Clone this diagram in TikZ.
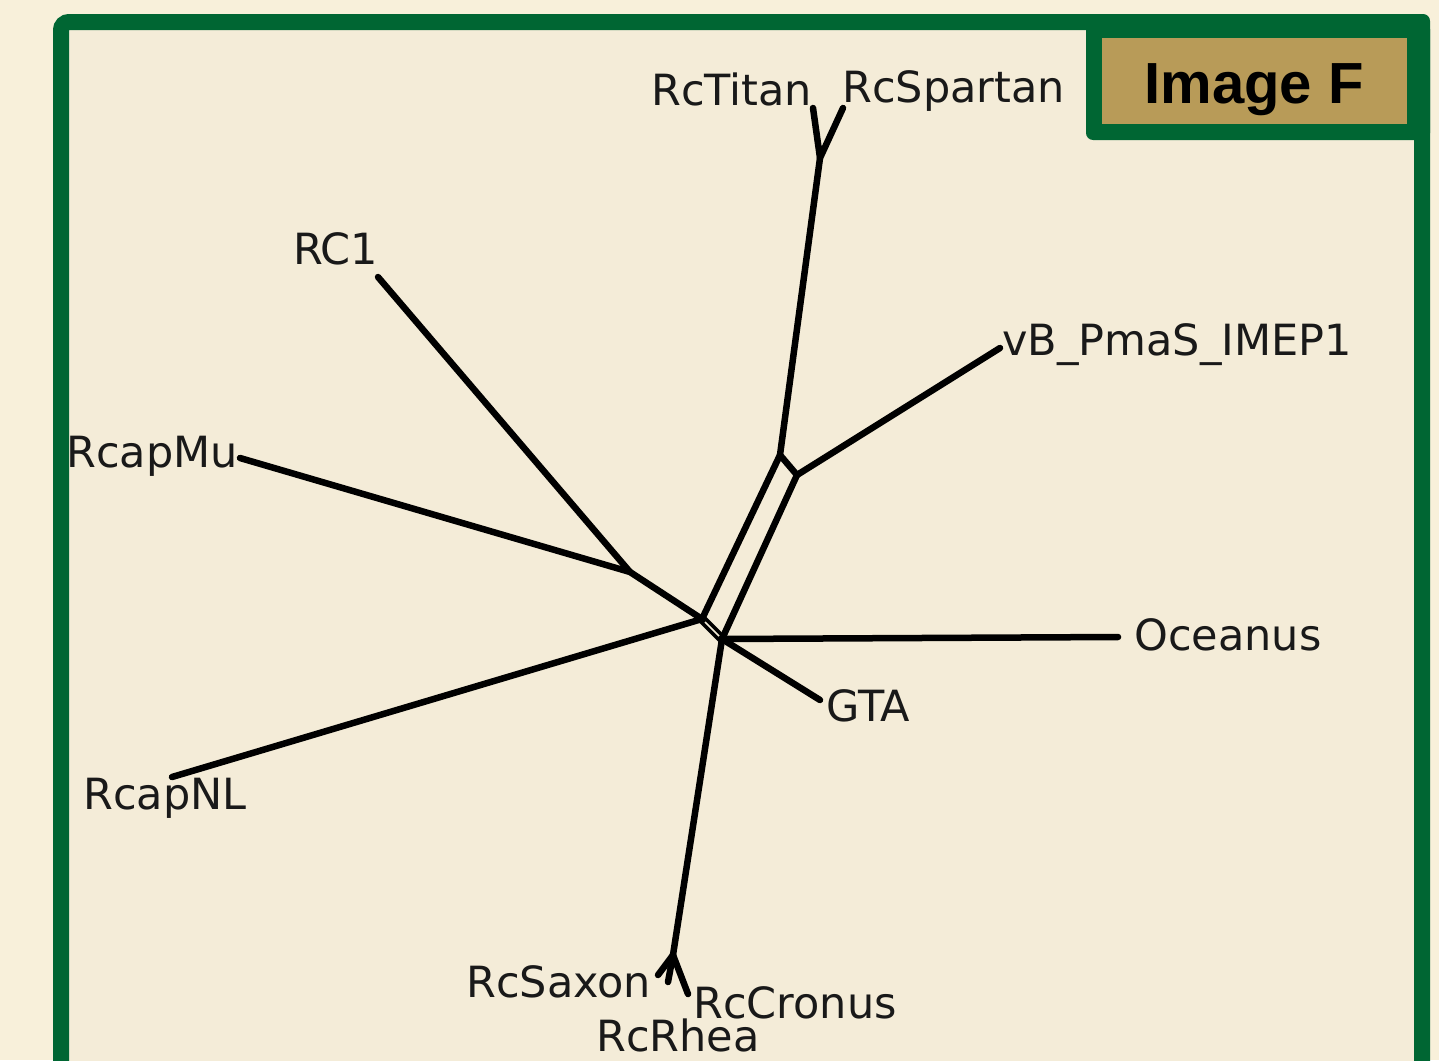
\documentclass[tikz,border=0pt]{standalone}
\usepackage{fontspec}
\usetikzlibrary{calc}
\setmainfont{DejaVu Sans}
\newfontfamily\tagfont{Liberation Sans}
\definecolor{pagebg}{HTML}{F8F0DA}
\definecolor{panelbg}{HTML}{F4ECD8}
\definecolor{framegreen}{HTML}{006633}
\definecolor{taggold}{HTML}{B89B58}
\tikzset{
  branch/.style={line width=6.5pt, line cap=round, line join=round, black},
  splitbar/.style={line width=9pt, black},
  splitgap/.style={line width=1.6pt, panelbg},
  leaf/.style={anchor=base west, inner sep=0pt, font=\fontsize{43}{43}\selectfont, text=black!90},
}
\begin{document}
\begin{tikzpicture}[x=1pt, y=-1pt]
  % page and framed panel
  \fill[pagebg] (0,0) rectangle (1439,1060);
  \useasboundingbox (0,0) rectangle (1439,1060);
  \fill[panelbg] (61,22) rectangle (1422,1080);
  \draw[framegreen, line width=16pt, rounded corners=8pt] (61,22) rectangle (1422,1100);
  % title tab
  \fill[framegreen, rounded corners=7pt] (1086,14) rectangle (1430,140);
  \fill[taggold] (1102,38) rectangle (1407,124);
  \node[inner sep=0pt, anchor=base, font=\tagfont\bfseries\fontsize{58}{58}\selectfont] (title) at (1254,103) {Image F};

  % tree vertices
  \coordinate (top) at (820,158);
  \coordinate (A) at (780,455);
  \coordinate (B) at (797,475);
  \coordinate (C) at (702,619);
  \coordinate (D) at (722,639);
  \coordinate (E) at (630,572);
  \coordinate (F) at (673,955);
  % leaf ends
  \coordinate (titanEnd) at (813,108);
  \coordinate (spartanEnd) at (843,108);
  \coordinate (vbEnd) at (1000,348);
  \coordinate (rc1End) at (378,277);
  \coordinate (muEnd) at (240,458);
  \coordinate (nlEnd) at (172,777);
  \coordinate (oceEnd) at (1118,637);
  \coordinate (gtaEnd) at (820,700);
  \coordinate (saxEnd) at (658,975);
  \coordinate (rheaEnd) at (668,982);
  \coordinate (croEnd) at (688,994);

  % branches
  \draw[branch] (titanEnd) -- (top) -- (spartanEnd);
  \draw[branch] (top) -- (A);
  \draw[branch] (A) -- (B);
  \draw[branch] (B) -- (vbEnd);
  \draw[branch] (A) -- (C);
  \draw[branch] (B) -- (D);
  \draw[branch] (C) -- (nlEnd);
  \draw[branch] (rc1End) -- (E);
  \draw[branch] (muEnd) -- (E);
  \draw[branch] (E) -- (C);
  \draw[branch] (D) -- (gtaEnd);
  \draw[branch] (D) -- (oceEnd);
  \draw[branch] (D) -- (F);
  \draw[branch] (F) -- (saxEnd);
  \draw[branch] (F) -- (rheaEnd);
  \draw[branch] (F) -- (croEnd);
  % short split edge drawn as a hollow bar
  \draw[splitbar] (C) -- (D);
  \draw[splitgap] ($(C)!0.15!(D)$) -- ($(C)!0.85!(D)$);

  % leaf labels
  \node[leaf] (RcTitan) at (651,105) {RcTitan};
  \node[leaf] (RcSpartan) at (842,102) {RcSpartan};
  \node[leaf] (RC1) at (293,264) {RC1};
  \node[leaf] (vB) at (1002,355) {vB\_PmaS\_IMEP1};
  \node[leaf] (RcapMu) at (66,467) {RcapMu};
  \node[leaf] (Oceanus) at (1134,650) {Oceanus};
  \node[leaf] (GTA) at (826,721) {GTA};
  \node[leaf] (RcapNL) at (83,809) {RcapNL};
  \node[leaf] (RcSaxon) at (466,997) {RcSaxon};
  \node[leaf] (RcCronus) at (693,1018) {RcCronus};
  \node[leaf] (RcRhea) at (596,1051) {RcRhea};
\end{tikzpicture}
\end{document}
